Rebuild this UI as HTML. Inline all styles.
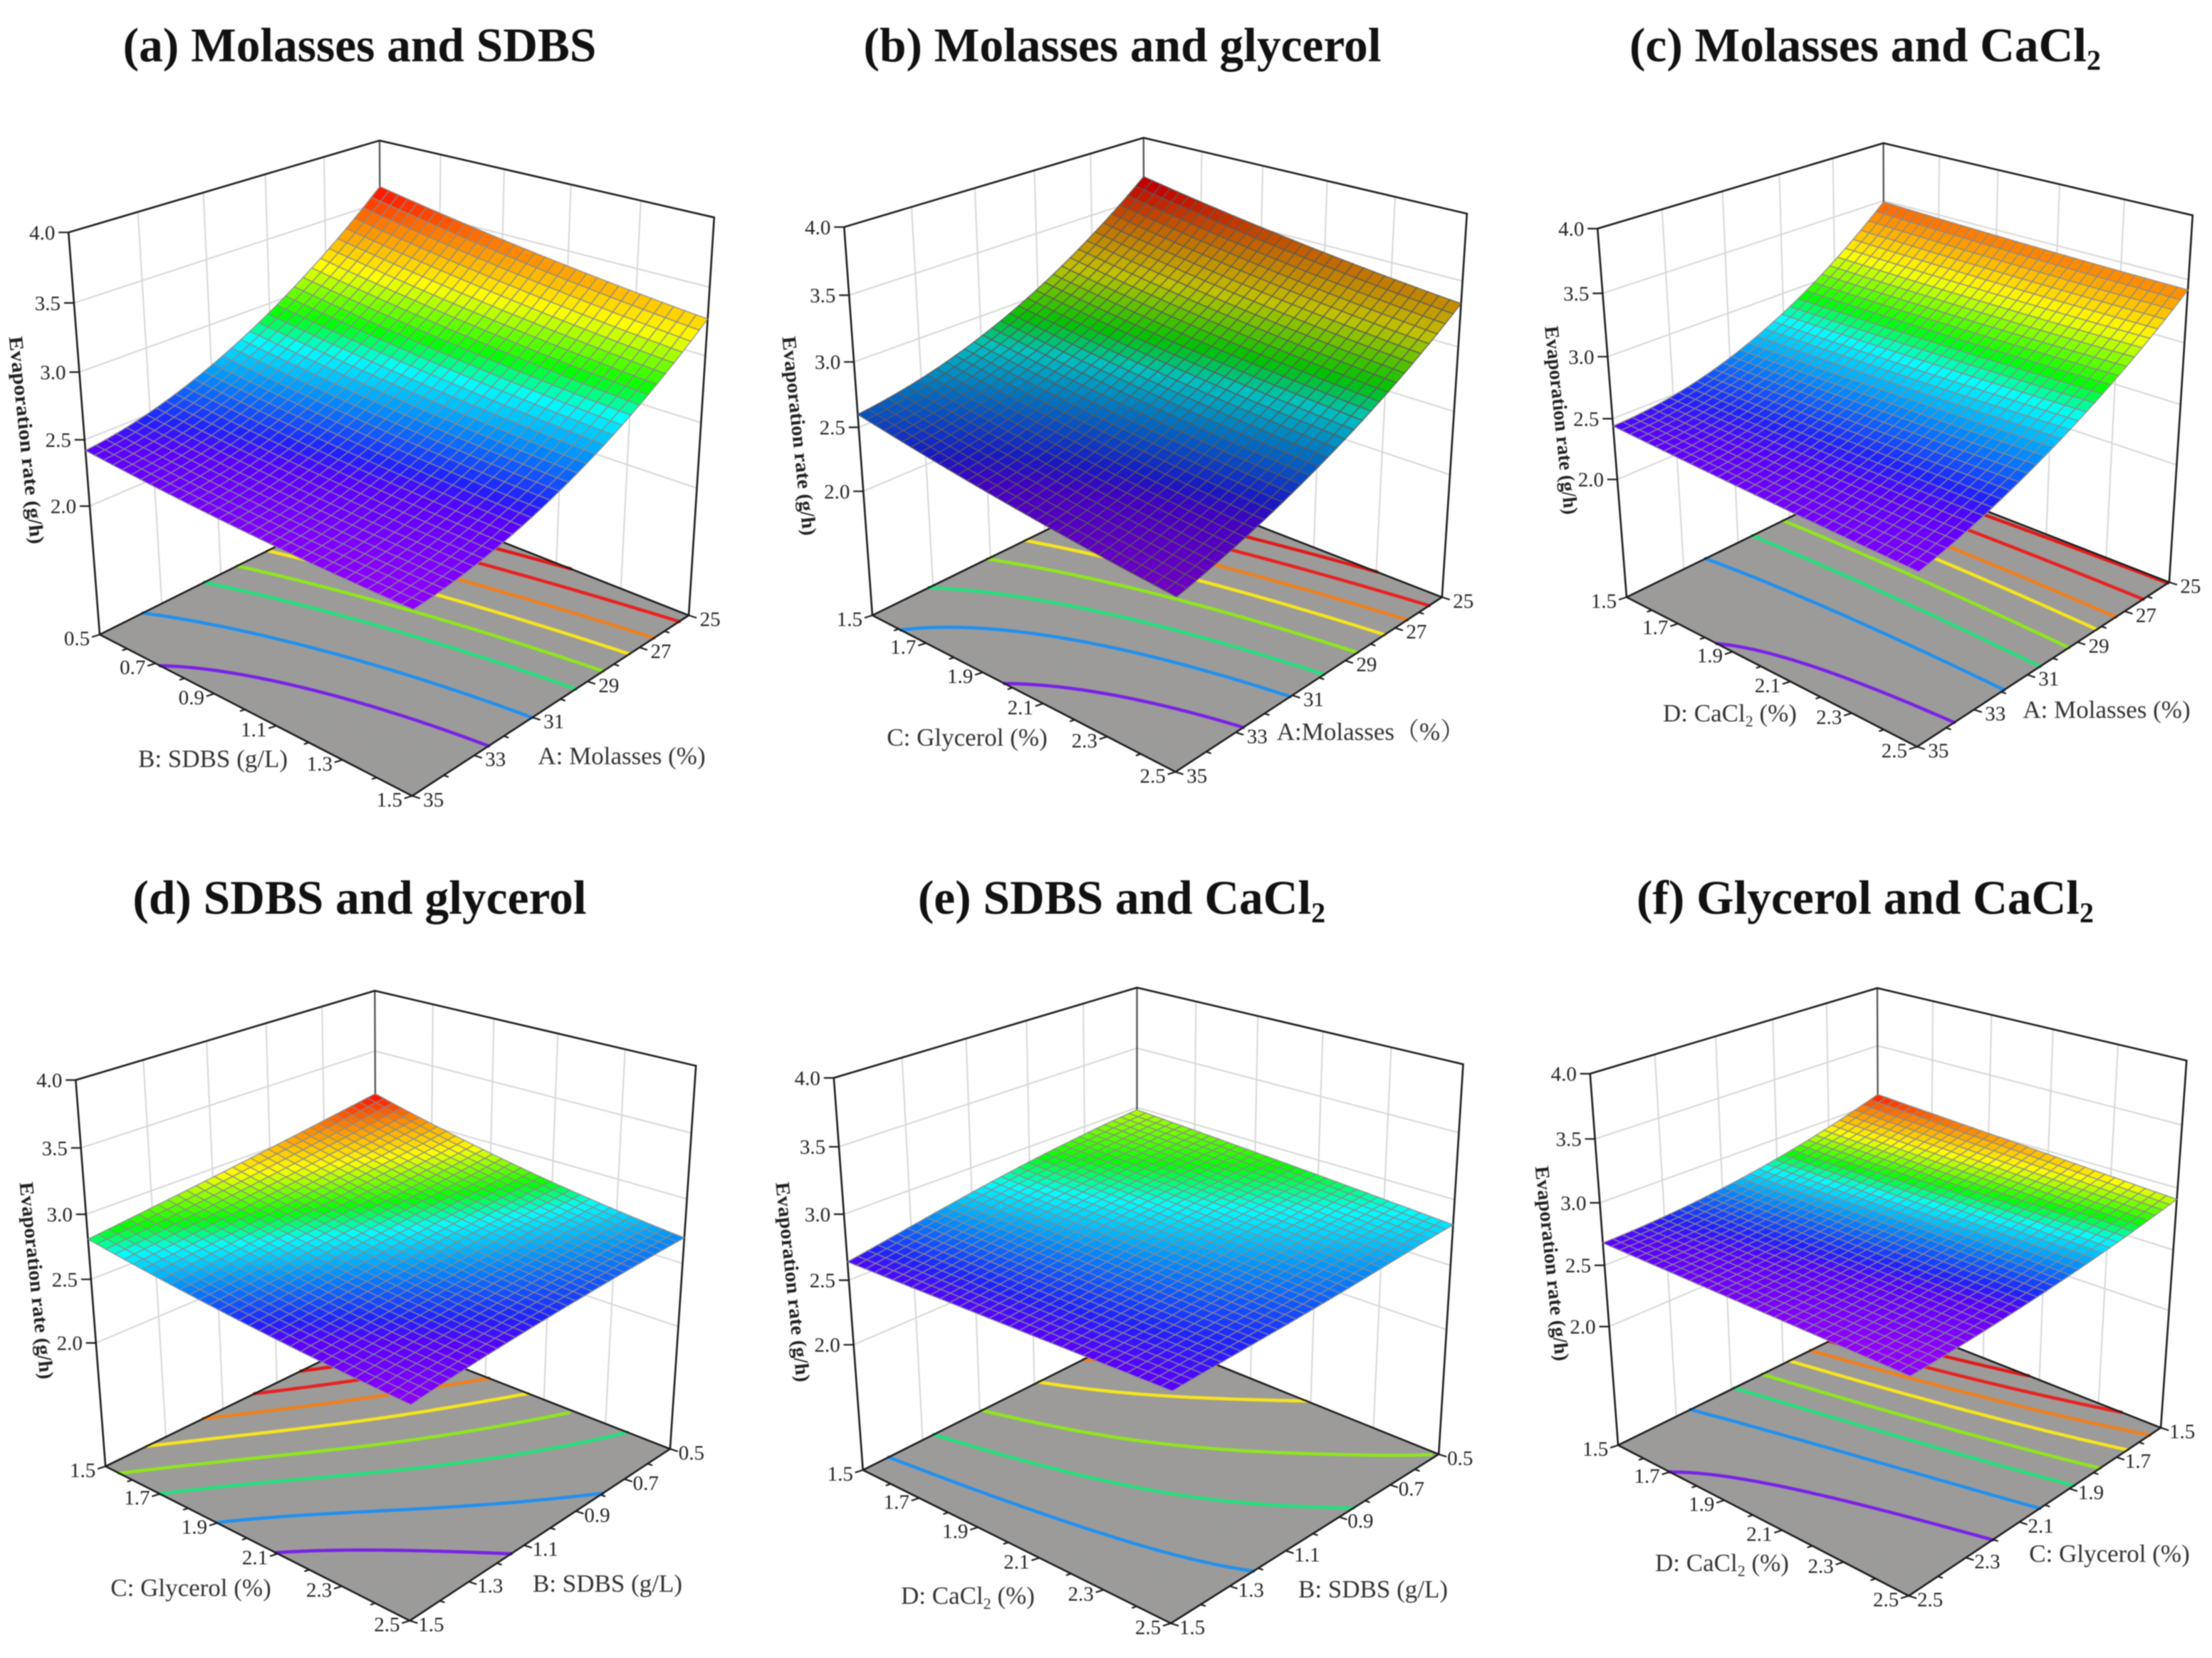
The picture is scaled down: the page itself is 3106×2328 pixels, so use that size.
<!DOCTYPE html>
<html lang="en">
<head>
<meta charset="utf-8">
<title>Evaporation rate response surfaces</title>
<style>
html,body{margin:0;padding:0;background:#fff;}
body{width:3106px;height:2328px;overflow:hidden;}
#chart{display:block;filter:blur(0.9px);}
text{font-family:"Liberation Serif","Noto Serif CJK SC",serif;}
.title{font-size:67.4px;font-weight:bold;fill:#111;text-anchor:middle;}
.axis-title{font-size:35px;fill:#333;text-anchor:middle;}
.y-title{font-size:28px;font-weight:bold;fill:#222;text-anchor:middle;}
.tick-label{font-size:29px;fill:#222;text-anchor:middle;}
</style>
</head>
<body>
<svg id="chart" xmlns="http://www.w3.org/2000/svg" width="3106" height="2328" viewBox="0 0 3106 2328">
  <rect x="0" y="0" width="3106" height="2328" fill="#ffffff"/>
  <g id="plots"></g>

  <text class="title" x="505" y="86">(a) Molasses and SDBS</text>
  <text class="title" x="1576" y="86">(b) Molasses and glycerol</text>
  <text class="title" x="2619" y="86">(c) Molasses and CaCl<tspan font-size="40" dy="12">2</tspan></text>
  <text class="title" x="505" y="1283">(d) SDBS and glycerol</text>
  <text class="title" x="1575" y="1283">(e) SDBS and CaCl<tspan font-size="40" dy="12">2</tspan></text>
  <text class="title" x="2619" y="1283">(f) Glycerol and CaCl<tspan font-size="40" dy="12">2</tspan></text>

  <text class="axis-title" x="299" y="1077">B: SDBS (g/L)</text>
  <text class="axis-title" x="873" y="1073">A: Molasses (%)</text>
  <text class="axis-title" x="1358" y="1047">C: Glycerol (%)</text>
  <text class="axis-title" x="1925" y="1039">A:Molasses（%）</text>
  <text class="axis-title" x="2429" y="1013">D: CaCl<tspan font-size="22" dy="7">2</tspan><tspan dy="-7"> (%)</tspan></text>
  <text class="axis-title" x="2958" y="1008">A: Molasses (%)</text>
  <text class="axis-title" x="268" y="2241">C: Glycerol (%)</text>
  <text class="axis-title" x="853" y="2235">B: SDBS (g/L)</text>
  <text class="axis-title" x="1359" y="2252">D: CaCl<tspan font-size="22" dy="7">2</tspan><tspan dy="-7"> (%)</tspan></text>
  <text class="axis-title" x="1928" y="2243">B: SDBS (g/L)</text>
  <text class="axis-title" x="2418" y="2206">D: CaCl<tspan font-size="22" dy="7">2</tspan><tspan dy="-7"> (%)</tspan></text>
  <text class="axis-title" x="2962" y="2193">C: Glycerol (%)</text>

  <text class="y-title" transform="translate(28 619) rotate(84)" textLength="293" lengthAdjust="spacingAndGlyphs">Evaporation rate (g/h)</text>
  <text class="y-title" transform="translate(1113 613) rotate(84)" textLength="281" lengthAdjust="spacingAndGlyphs">Evaporation rate (g/h)</text>
  <text class="y-title" transform="translate(2183 591) rotate(84)" textLength="266" lengthAdjust="spacingAndGlyphs">Evaporation rate (g/h)</text>
  <text class="y-title" transform="translate(42 1799) rotate(84)" textLength="278" lengthAdjust="spacingAndGlyphs">Evaporation rate (g/h)</text>
  <text class="y-title" transform="translate(1104 1801) rotate(84)" textLength="282" lengthAdjust="spacingAndGlyphs">Evaporation rate (g/h)</text>
  <text class="y-title" transform="translate(2170 1775) rotate(84)" textLength="275" lengthAdjust="spacingAndGlyphs">Evaporation rate (g/h)</text>
</svg>

<script>
// Tick labels
const ticksMolasses = ['25','27','29','31','33','35'];
const ticksSDBS = ['0.5','0.7','0.9','1.1','1.3','1.5'];
const ticksGlycerol = ['1.5','1.7','1.9','2.1','2.3','2.5'];
const ticksCaCl2 = ['1.5','1.7','1.9','2.1','2.3','2.5'];
const zTickValues = [2.0,2.5,3.0,3.5,4.0];
const zTickLabels = ['2.0','2.5','3.0','3.5','4.0'];
const zAxisMin = 1.0;
const zAxisMax = 4.0;

// Evaporation rate read from each surface.
// Rows step along the left floor axis, columns along the right floor axis.
const surfaceA = [
  [3.63,3.16,2.80,2.55,2.42],
  [3.42,2.985,2.655,2.43,2.31],
  [3.27,2.87,2.57,2.366,2.26]
];
const surfaceB = [
  [3.68,3.26,2.94,2.72,2.60],
  [3.475,3.08,2.77,2.54,2.39],
  [3.33,2.96,2.66,2.42,2.24]
];
const surfaceC = [
  [3.49,3.044,2.72,2.519,2.44],
  [3.445,3.03,2.715,2.49,2.36],
  [3.42,3.04,2.73,2.48,2.30]
];
const surfaceD = [
  [3.14,3.05,2.965,2.885,2.81],
  [2.87,2.815,2.76,2.70,2.64],
  [2.70,2.675,2.64,2.595,2.53]
];
const surfaceE = [
  [2.98,2.925,2.845,2.745,2.64],
  [2.90,2.845,2.78,2.705,2.635],
  [2.81,2.76,2.71,2.67,2.63]
];
const surfaceF = [
  [3.07,2.909,2.79,2.714,2.68],
  [2.99,2.857,2.755,2.685,2.645],
  [2.91,2.805,2.72,2.655,2.61]
];

// Contour levels drawn on each floor
const levelsA = [2.365,2.476,2.63,2.75,2.885,3.03,3.20,3.37];
const levelsB = [2.40,2.55,2.68,2.83,2.97,3.10,3.24,3.38];
const levelsC = [2.383,2.536,2.675,2.805,2.948,3.056,3.23,3.41];
const levelsD = [2.615,2.67,2.735,2.79,2.85,2.91,2.97,3.03];
const levelsE = [2.675,2.74,2.81,2.885,2.935];
const levelsF = [2.666,2.714,2.758,2.797,2.844,2.887,2.93,2.98];

const contourPalette = ['#7a22e6','#2290ee','#24e07c','#8ee61e','#f6e41e','#f0801e','#e82222','#e01a1a'];
const rampStops = [0,.12,.17,.285,.40,.49,.665,.85,1];
const rampColors = [[144,0,255],[90,0,255],[32,32,255],[0,144,255],[0,255,255],[0,255,0],[255,255,0],[255,128,0],[255,0,0]];

const CELLS = 32;
const PERSPECTIVE = 1.065;
const NS = 'http://www.w3.org/2000/svg';
const plotsLayer = document.getElementById('plots');

const panels = [
  {id:'a',surface:surfaceA,levels:levelsA,paletteStart:0,colorMin:2.26,colorMax:3.63,shade:1,gridStroke:'#8a8a8a',
   leftTicks:ticksSDBS,rightTicks:ticksMolasses,frame:[0,0,.673,.75],
   floor:[[795,925],[208,1188],[860,1490],[1437,1152]],top:[[792,263],[143,435],[866,628],[1490,407]]},
  {id:'b',surface:surfaceB,levels:levelsB,paletteStart:0,colorMin:2.26,colorMax:3.63,shade:.76,gridStroke:'#5a5a5a',
   leftTicks:ticksGlycerol,rightTicks:ticksMolasses,frame:[1050,0,.66,.75],
   floor:[[845,902],[265,1152],[910,1445],[1477,1118]],top:[[842,258],[205,425],[916,622],[1530,400]]},
  {id:'c',surface:surfaceC,levels:levelsC,paletteStart:0,colorMin:2.26,colorMax:3.63,shade:1,gridStroke:'#8a8a8a',
   leftTicks:ticksCaCl2,rightTicks:ticksMolasses,frame:[2080,0,.658,.75],
   floor:[[860,882],[310,1118],[930,1398],[1468,1090]],top:[[858,268],[248,428],[938,614],[1518,403]]},
  {id:'d',surface:surfaceD,levels:levelsD,paletteStart:0,colorMin:2.53,colorMax:3.14,shade:1,gridStroke:'#8a8a8a',
   leftTicks:ticksGlycerol,rightTicks:ticksSDBS,frame:[0,1170,.673,.742],
   floor:[[785,948],[220,1198],[855,1490],[1398,1165]],top:[[782,298],[158,467],[860,663],[1452,440]]},
  {id:'e',surface:surfaceE,levels:levelsE,paletteStart:1,colorMin:2.55,colorMax:3.25,shade:1,gridStroke:'#8a8a8a',
   leftTicks:ticksCaCl2,rightTicks:ticksSDBS,frame:[1050,1170,.66,.742],
   floor:[[828,945],[245,1205],[900,1495],[1470,1175]],top:[[828,292],[183,463],[906,662],[1522,437]]},
  {id:'f',surface:surfaceF,levels:levelsF,paletteStart:0,colorMin:2.625,colorMax:3.08,shade:1,gridStroke:'#8a8a8a',
   leftTicks:ticksCaCl2,rightTicks:ticksGlycerol,frame:[2080,1170,.658,.742],
   floor:[[848,915],[292,1158],[912,1443],[1450,1125]],top:[[845,293],[232,455],[918,645],[1505,430]]}
];

function homography(p0,p1,p2,p3){
  const sx=p0[0]-p1[0]+p2[0]-p3[0], sy=p0[1]-p1[1]+p2[1]-p3[1];
  const dx1=p1[0]-p2[0], dx2=p3[0]-p2[0], dy1=p1[1]-p2[1], dy2=p3[1]-p2[1];
  const den=dx1*dy2-dx2*dy1;
  const g=(sx*dy2-dx2*sy)/den, h=(dx1*sy-sx*dy1)/den;
  const a=p1[0]-p0[0]+g*p1[0], b=p3[0]-p0[0]+h*p3[0], c=p0[0];
  const d=p1[1]-p0[1]+g*p1[1], e=p3[1]-p0[1]+h*p3[1], f=p0[1];
  return function(u,v){
    const w=g*u+h*v+1;
    return [(a*u+b*v+c)/w,(d*u+e*v+f)/w];
  };
}
// Smooth polynomial curve through evenly spaced readings
function along(list,t){
  const n=list.length-1, s=t*n;
  let sum=0;
  for(let i=0;i<=n;i++){
    let term=list[i];
    for(let j=0;j<=n;j++){
      if(j!==i) term*=(s-j)/(i-j);
    }
    sum+=term;
  }
  return sum;
}
function sampleSurface(grid,u,v){
  return along(grid.map(function(row){return along(row,u);}),v);
}
function rampColor(t,shade){
  t=Math.min(Math.max(t,0),1);
  let i=0;
  while(i<rampStops.length-2 && t>rampStops[i+1]) i++;
  const f=(t-rampStops[i])/(rampStops[i+1]-rampStops[i]);
  const c=[0,1,2].map(function(k){
    return Math.round((rampColors[i][k]+(rampColors[i+1][k]-rampColors[i][k])*f)*shade);
  });
  return 'rgb('+c.join(',')+')';
}
function create(parent,tag,attrs){
  const el=document.createElementNS(NS,tag);
  for(const k in attrs) el.setAttribute(k,attrs[k]);
  parent.appendChild(el);
  return el;
}
function fmt(p){return p[0].toFixed(1)+' '+p[1].toFixed(1);}

function drawPanel(cfg){
  const [ox,oy,sx,sy]=cfg.frame;
  const toPage=function(p){return [ox+p[0]*sx,oy+p[1]*sy];};
  const floorMap=homography.apply(null,cfg.floor.map(toPage));
  const topMap=homography.apply(null,cfg.top.map(toPage));
  const zScale=function(z){
    const w=(z-zAxisMin)/(zAxisMax-zAxisMin);
    return w/(PERSPECTIVE-(PERSPECTIVE-1)*w);
  };
  const project=function(u,v,z){
    const a=floorMap(u,v), b=topMap(u,v), t=zScale(z);
    return [a[0]+(b[0]-a[0])*t,a[1]+(b[1]-a[1])*t];
  };

  const g=create(plotsLayer,'g',{});
  
  

  // Walls: grid lines
  let wallPath='';
  for(let i=1;i<5;i++){
    wallPath+='M'+fmt(project(i/5,0,zAxisMin))+'L'+fmt(project(i/5,0,zAxisMax));
    wallPath+='M'+fmt(project(0,i/5,zAxisMin))+'L'+fmt(project(0,i/5,zAxisMax));
  }
  zTickValues.forEach(function(z){
    if(z>=zAxisMax) return;
    wallPath+='M'+fmt(project(1,0,z))+'L'+fmt(project(0,0,z))+'L'+fmt(project(0,1,z));
  });
  const walls=create(g,'path',{d:wallPath,fill:'none',stroke:'#d6d6d6','stroke-width':2});
  
  

  // Back vertical edge
  const backEdge=create(g,'path',{d:'M'+fmt(project(0,0,zAxisMin))+'L'+fmt(project(0,0,zAxisMax)),stroke:'#555',fill:'none','stroke-width':2.4});
  
  

  // Floor
  const floorShape=create(g,'polygon',{points:[floorMap(0,0),floorMap(1,0),floorMap(1,1),floorMap(0,1)].map(function(p){return p.join(',');}).join(' '),fill:'#9b9b9b'});
  
  
  let floorGrid='';
  for(let i=1;i<CELLS;i++){
    floorGrid+='M'+fmt(floorMap(i/CELLS,0))+'L'+fmt(floorMap(i/CELLS,1));
    floorGrid+='M'+fmt(floorMap(0,i/CELLS))+'L'+fmt(floorMap(1,i/CELLS));
  }
  const floorLines=create(g,'path',{d:floorGrid,fill:'none',stroke:'#a59a8c','stroke-width':1,'stroke-opacity':.55});
  
  

  // Contours by marching squares on the floor
  const RES=70;
  const field=[];
  for(let j=0;j<=RES;j++){
    const row=[];
    for(let i=0;i<=RES;i++) row.push(sampleSurface(cfg.surface,i/RES,j/RES));
    field.push(row);
  }
  cfg.levels.forEach(function(level,index){
    let d='';
    for(let j=0;j<RES;j++){
      for(let i=0;i<RES;i++){
        const corners=[[i,j],[i+1,j],[i+1,j+1],[i,j+1]];
        const hits=[];
        for(let k=0;k<4;k++){
          const a=corners[k], b=corners[(k+1)%4];
          const za=field[a[1]][a[0]], zb=field[b[1]][b[0]];
          if((za-level)*(zb-level)<0){
            const t=(level-za)/(zb-za);
            hits.push(floorMap((a[0]+(b[0]-a[0])*t)/RES,(a[1]+(b[1]-a[1])*t)/RES));
          }
        }
        if(hits.length>=2) d+='M'+fmt(hits[0])+'L'+fmt(hits[1]);
        if(hits.length===4) d+='M'+fmt(hits[2])+'L'+fmt(hits[3]);
      }
    }
    const line=create(g,'path',{d:d,fill:'none',stroke:contourPalette[cfg.paletteStart+index],'stroke-width':4.6,'stroke-linecap':'round'});
    
    
  });

  // Box outline
  const outline='M'+fmt(project(1,0,zAxisMin))+'L'+fmt(project(1,1,zAxisMin))+'L'+fmt(project(0,1,zAxisMin))+'L'+fmt(project(0,0,zAxisMin))+'Z'
    +'M'+fmt(project(1,0,zAxisMin))+'L'+fmt(project(1,0,zAxisMax))+'L'+fmt(project(0,0,zAxisMax))+'L'+fmt(project(0,1,zAxisMax))+'L'+fmt(project(0,1,zAxisMin));
  const box=create(g,'path',{d:outline,fill:'none',stroke:'#1c1c1c','stroke-width':2.6,'stroke-linejoin':'miter'});
  
  

  // Floor axis ticks and labels
  let tickPath='';
  const drawFloorAxis=function(labels,pointAt,dirX,labelGap,side){
    const steps=(labels.length-1)*2;
    for(let s=0;s<=steps;s++){
      const p=pointAt(s/steps);
      const major=s%2===0;
      const len=major?11:7;
      tickPath+='M'+fmt(p)+'L'+fmt([p[0]+dirX*len,p[1]+len*.32]);
      if(major){
        const label=create(g,'text',{class:'tick-label',x:(p[0]+dirX*labelGap).toFixed(1),y:(p[1]+15).toFixed(1)});
        
        
        label.textContent=labels[s/2];
      }
    }
  };
  drawFloorAxis(cfg.leftTicks,function(t){return floorMap(1,t);},-1,32,'left-axis');
  drawFloorAxis(cfg.rightTicks,function(t){return floorMap(t,1);},1,30,'right-axis');

  // Vertical axis ticks and labels
  zTickValues.forEach(function(z,i){
    const p=project(1,0,z);
    tickPath+='M'+fmt(p)+'L'+fmt([p[0]-14,p[1]]);
    const label=create(g,'text',{class:'tick-label',x:(p[0]-37).toFixed(1),y:(p[1]+10).toFixed(1)});
    
    
    label.textContent=zTickLabels[i];
  });
  const ticks=create(g,'path',{d:tickPath,fill:'none',stroke:'#1c1c1c','stroke-width':2.2});
  
  

  // Surface mesh
  const mesh=create(g,'g',{});
  
  
  for(let j=0;j<CELLS;j++){
    for(let i=0;i<CELLS;i++){
      const u0=i/CELLS,u1=(i+1)/CELLS,v0=j/CELLS,v1=(j+1)/CELLS;
      const z00=sampleSurface(cfg.surface,u0,v0),z10=sampleSurface(cfg.surface,u1,v0);
      const z11=sampleSurface(cfg.surface,u1,v1),z01=sampleSurface(cfg.surface,u0,v1);
      const mean=(z00+z10+z11+z01)/4;
      const pts=[project(u0,v0,z00),project(u1,v0,z10),project(u1,v1,z11),project(u0,v1,z01)];
      const cell=create(mesh,'polygon',{
        points:pts.map(function(p){return p[0].toFixed(1)+','+p[1].toFixed(1);}).join(' '),
        fill:rampColor((mean-cfg.colorMin)/(cfg.colorMax-cfg.colorMin),cfg.shade),
        stroke:cfg.gridStroke,'stroke-width':1.6,'stroke-opacity':.8
      });
      
      
    }
  }
}

panels.forEach(drawPanel);
</script>
</body>
</html>
